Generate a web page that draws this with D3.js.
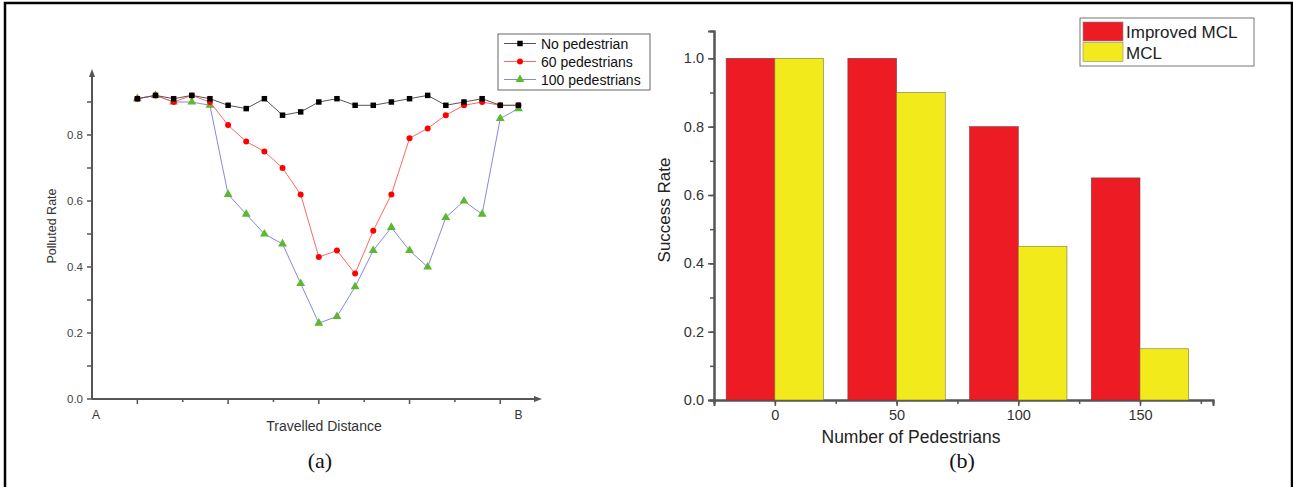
<!DOCTYPE html>
<html>
<head>
<meta charset="utf-8">
<script src="https://cdn.jsdelivr.net/npm/d3@7"></script>
<style>
  body { margin: 0; background: #fff; }
  svg { display: block; font-family: "Liberation Sans", Arial, sans-serif; }
</style>
</head>
<body>
<svg id="chart" width="1293" height="487"></svg>
<script>
// (a) polluted rate along the route A -> B
let distance = d3.range(1, 23)
let noPed = [0.91, 0.92, 0.91, 0.92, 0.91, 0.89, 0.88, 0.91, 0.86, 0.87, 0.90, 0.91, 0.89, 0.89, 0.90, 0.91, 0.92, 0.89, 0.90, 0.91, 0.89, 0.89]
let ped60 = [0.91, 0.92, 0.90, 0.92, 0.90, 0.83, 0.78, 0.75, 0.70, 0.62, 0.43, 0.45, 0.38, 0.51, 0.62, 0.79, 0.82, 0.86, 0.89, 0.90, 0.89, 0.89]
let ped100 = [0.91, 0.92, 0.90, 0.90, 0.89, 0.62, 0.56, 0.50, 0.47, 0.35, 0.23, 0.25, 0.34, 0.45, 0.52, 0.45, 0.40, 0.55, 0.60, 0.56, 0.85, 0.88]
let seriesNames = ["No pedestrian", "60 pedestrians", "100 pedestrians"]
let yTicksA = [0, 0.2, 0.4, 0.6, 0.8]

// (b) success rate
let pedCounts = [0, 50, 100, 150]
let improvedMCL = [1.0, 1.0, 0.8, 0.65]
let mcl = [1.0, 0.9, 0.45, 0.15]
let barNames = ["Improved MCL", "MCL"]
let yTicksB = [0, 0.2, 0.4, 0.6, 0.8, 1.0]

let svg = d3.select("#chart")
let axisCol = "#555"

// outer frame
svg.append("rect").attr("x", 5).attr("y", 3).attr("width", 1287).attr("height", 520)
    .attr("fill", "none").attr("stroke", "#000").attr("stroke-width", 2.5)

// ---------- chart (a) ----------
let xA = d3.scaleLinear().domain([-1.5, 23.3]).range([92, 542])
let yA = d3.scaleLinear().domain([0, 1]).range([399, 69])
let gA = svg.append("g")

// axes
gA.append("line").attr("x1", 92).attr("x2", 538).attr("y1", yA(0)).attr("y2", yA(0))
    .attr("stroke", axisCol).attr("stroke-width", 2)
gA.append("path").attr("d", "M542," + yA(0) + "l-8,-3l0,6z").attr("fill", axisCol)
gA.append("line").attr("x1", 92).attr("x2", 92).attr("y1", yA(0)).attr("y2", 74)
    .attr("stroke", axisCol).attr("stroke-width", 2)
gA.append("path").attr("d", "M92,69l-3,8l6,0z").attr("fill", axisCol)

let xTicksA = d3.range(0, 10).map(function (i) { return -1.5 + i * 2.5 })
xTicksA.forEach(function (t, i) {
    if (i == 0) return
    gA.append("line").attr("x1", xA(t)).attr("x2", xA(t))
        .attr("y1", yA(0)).attr("y2", yA(0) + (i % 2 == 1 ? 5 : 3))
        .attr("stroke", axisCol).attr("stroke-width", 1.5)
})
gA.append("text").attr("x", 96).attr("y", 419).attr("text-anchor", "middle")
    .attr("font-size", 12).attr("fill", "#333").text("A")
gA.append("text").attr("x", xA(22)).attr("y", 419).attr("text-anchor", "middle")
    .attr("font-size", 12).attr("fill", "#333").text("B")

d3.range(0, 10).forEach(function (i) {
    let v = i / 10
    gA.append("line").attr("x1", 92).attr("x2", 87).attr("y1", yA(v)).attr("y2", yA(v))
        .attr("stroke", axisCol).attr("stroke-width", 1.5)
})
yTicksA.forEach(function (v) {
    gA.append("text").attr("x", 83).attr("y", yA(v) + 4).attr("text-anchor", "end")
        .attr("font-size", 11.5).attr("fill", "#444").text(d3.format(".1f")(v))
})

gA.append("text").attr("transform", "translate(56,226) rotate(-90)").attr("text-anchor", "middle")
    .attr("font-size", 12.5).attr("fill", "#333").text("Polluted Rate")
gA.append("text").attr("x", 324).attr("y", 431).attr("text-anchor", "middle")
    .attr("font-size", 14).attr("fill", "#333").text("Travelled Distance")
gA.append("text").attr("x", 320).attr("y", 468).attr("text-anchor", "middle")
    .attr("font-family", "Liberation Serif, serif").attr("font-size", 22).attr("fill", "#111").text("(a)")

let lineA = d3.line().x(function (d) { return xA(d[0]) }).y(function (d) { return yA(d[1]) })
let seriesA = [
    { name: seriesNames[0], vals: noPed, line: "#555", mark: "#000", shape: d3.symbolSquare, size: 30 },
    { name: seriesNames[1], vals: ped60, line: "#f66", mark: "#f00", shape: d3.symbolCircle, size: 28 },
    { name: seriesNames[2], vals: ped100, line: "#8888dd", mark: "#5bb830", shape: d3.symbolTriangle, size: 34 }
]
// draw the green one first so the black sits on top
let drawOrder = [2, 1, 0]
drawOrder.forEach(function (k) {
    let s = seriesA[k]
    let pts = distance.map(function (x, i) { return [x, s.vals[i]] })
    gA.append("path").datum(pts).attr("d", lineA).attr("fill", "none")
        .attr("stroke", s.line).attr("stroke-width", 1)
    gA.selectAll(".m" + k).data(pts).enter().append("path")
        .attr("transform", function (d) { return "translate(" + xA(d[0]) + "," + yA(d[1]) + ")" })
        .attr("d", d3.symbol().type(s.shape).size(s.size)).attr("fill", s.mark)
})

// legend (a)
let legA = gA.append("g").attr("transform", "translate(498,34)")
legA.append("rect").attr("width", 152).attr("height", 56).attr("fill", "#fff")
    .attr("stroke", "#666").attr("stroke-width", 1)
seriesA.forEach(function (s, i) {
    let y = 9.5 + i * 18
    legA.append("line").attr("x1", 6).attr("x2", 38).attr("y1", y).attr("y2", y)
        .attr("stroke", s.line).attr("stroke-width", 1)
    legA.append("path").attr("transform", "translate(22," + y + ")")
        .attr("d", d3.symbol().type(s.shape).size(s.size)).attr("fill", s.mark)
    legA.append("text").attr("x", 43).attr("y", y + 5).attr("font-size", 14)
        .attr("fill", "#111").text(s.name)
})

// ---------- chart (b) ----------
let xB = d3.scaleLinear().domain([-25, 180]).range([714, 1213])
let yB = d3.scaleLinear().domain([0, 1.08]).range([400, 31])
let gB = svg.append("g")

gB.append("g").attr("transform", "translate(0,400)")
    .call(d3.axisBottom(xB).tickValues(d3.range(-25, 180, 25)).tickSize(4).tickFormat(""))
gB.append("g").attr("transform", "translate(0,400)")
    .call(d3.axisBottom(xB).tickValues(pedCounts).tickSize(6).tickPadding(4))
gB.append("g").attr("transform", "translate(714,0)")
    .call(d3.axisLeft(yB).tickValues(d3.range(0, 11).map(function (i) { return i / 10 })).tickSize(4).tickFormat(""))
gB.append("g").attr("transform", "translate(714,0)")
    .call(d3.axisLeft(yB).tickValues(yTicksB).tickSize(6).tickPadding(4).tickFormat(d3.format(".1f")))
gB.selectAll(".domain").attr("stroke", axisCol).attr("stroke-width", 2)
gB.selectAll(".tick line").attr("stroke", axisCol).attr("stroke-width", 1.5)
gB.selectAll(".tick text").attr("font-size", 14.5).attr("fill", "#333")
    .attr("font-family", "Liberation Sans, Arial, sans-serif")

let barW = 20
gB.selectAll(".imp").data(pedCounts).enter().append("rect")
    .attr("x", function (d) { return xB(d - barW) })
    .attr("y", function (d, i) { return yB(improvedMCL[i]) })
    .attr("width", xB(barW) - xB(0))
    .attr("height", function (d, i) { return yB(0) - yB(improvedMCL[i]) })
    .attr("fill", "#ed1c24").attr("stroke", "#7a3a3a").attr("stroke-width", 0.6)
gB.selectAll(".mcl").data(pedCounts).enter().append("rect")
    .attr("x", function (d) { return xB(d) })
    .attr("y", function (d, i) { return yB(mcl[i]) })
    .attr("width", xB(barW) - xB(0))
    .attr("height", function (d, i) { return yB(0) - yB(mcl[i]) })
    .attr("fill", "#f2ea1a").attr("stroke", "#7a7a3a").attr("stroke-width", 0.6)

gB.append("text").attr("transform", "translate(670,210) rotate(-90)").attr("text-anchor", "middle")
    .attr("font-size", 17).attr("fill", "#222").text("Success Rate")
gB.append("text").attr("x", 911).attr("y", 443).attr("text-anchor", "middle")
    .attr("font-size", 17.5).attr("fill", "#222").text("Number of Pedestrians")
gB.append("text").attr("x", 962).attr("y", 468).attr("text-anchor", "middle")
    .attr("font-family", "Liberation Serif, serif").attr("font-size", 22).attr("fill", "#111").text("(b)")

// legend (b)
let legB = gB.append("g").attr("transform", "translate(1080,18)")
legB.append("rect").attr("width", 174).attr("height", 48).attr("fill", "#fff")
    .attr("stroke", "#777").attr("stroke-width", 1)
let legCols = ["#ed1c24", "#f2ea1a"]
barNames.forEach(function (n, i) {
    legB.append("rect").attr("x", 3).attr("y", 4 + i * 20.5).attr("width", 40).attr("height", 19)
        .attr("fill", legCols[i]).attr("stroke", "#888").attr("stroke-width", 0.6)
    legB.append("text").attr("x", 46).attr("y", 20 + i * 20.5).attr("font-size", 17)
        .attr("fill", "#222").text(n)
})
</script>
</body>
</html>
